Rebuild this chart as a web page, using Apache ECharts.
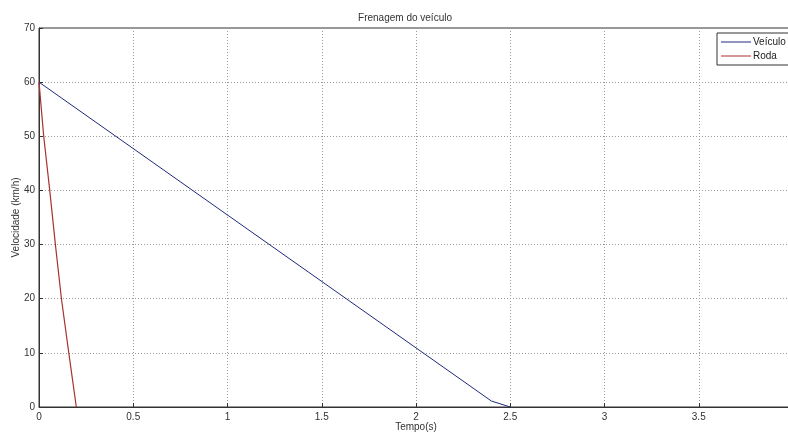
<!DOCTYPE html>
<html><head><meta charset="utf-8">
<script src="https://cdn.jsdelivr.net/npm/echarts@6/dist/echarts.min.js"></script>
<style>html,body{margin:0;padding:0;background:#fff}#c{width:788px;height:433px}</style>
</head><body><div id="c"></div>
<script>
var vehTime = [0, 2.4, 2.5];
var vehSpeed = [60, 1.1, 0];
var wheelTime = [0, 0.025, 0.057, 0.087, 0.119, 0.158, 0.198];
var wheelSpeed = [60, 50, 40, 30, 20, 10, 0];
var seriesNames = ['Veículo', 'Roda'];
var titleText = 'Frenagem do veículo';
var xName = 'Tempo(s)';
var yName = 'Velocidade (km/h)';

function pairs(xs, ys){ return xs.map(function(x,i){return [x, ys[i]];}); }
var font = 'Liberation Sans, Arial, sans-serif';
var chart = echarts.init(document.getElementById('c'), null, {renderer:'canvas'});
var gridStyle = {show:true, lineStyle:{color:'#9a9a9a', type:[1,2], width:1}};
chart.setOption({
  animation:false,
  backgroundColor:'#fff',
  title:{text:titleText, left:400, top:8, textAlign:'center',
    textStyle:{fontFamily:font, fontSize:10, fontWeight:'normal', color:'#333'}},
  grid:{left:39, top:28, width:754, height:379, containLabel:false, outerBoundsMode:'none',
    show:true, borderColor:'#333', borderWidth:1},
  legend:{left:717, top:33, orient:'vertical', itemWidth:30, itemHeight:1, itemGap:4,
    backgroundColor:'#fff', borderColor:'#333', borderWidth:1, padding:[4,20,4,4],
    icon:'rect', textStyle:{fontFamily:font, fontSize:10, color:'#222', padding:[0,0,0,-3]},
    data:seriesNames},
  xAxis:{type:'value', min:0, max:4, interval:0.5,
    name:xName, nameLocation:'middle', nameGap:15, nameMoveOverlap:false,
    nameTextStyle:{fontFamily:font, fontSize:10, color:'#333'},
    axisLine:{show:true, onZero:false, lineStyle:{color:'#333'}},
    axisTick:{show:true, inside:true, length:4, lineStyle:{color:'#333'}},
    axisLabel:{fontFamily:font, fontSize:10, color:'#333', margin:5,
      formatter:function(v){ return v>=4? '' : String(v); }},
    splitLine:gridStyle},
  yAxis:{type:'value', min:0, max:70, interval:10,
    name:yName, nameLocation:'middle', nameGap:18, nameRotate:90, nameMoveOverlap:false,
    nameTextStyle:{fontFamily:font, fontSize:10, color:'#333'},
    axisLine:{show:true, onZero:false, lineStyle:{color:'#333'}},
    axisTick:{show:true, inside:true, length:4, lineStyle:{color:'#333'}},
    axisLabel:{fontFamily:font, fontSize:10, color:'#333', margin:4},
    splitLine:gridStyle},
  series:[
    {name:seriesNames[0], type:'line', data:pairs(vehTime, vehSpeed), showSymbol:false,
     lineStyle:{color:'#1f2a7a', width:1}, itemStyle:{color:'#1f2a7a'}},
    {name:seriesNames[1], type:'line', data:pairs(wheelTime, wheelSpeed), showSymbol:false,
     lineStyle:{color:'#a83030', width:1.2}, itemStyle:{color:'#a83030'}}
  ]
});
</script></body></html>
